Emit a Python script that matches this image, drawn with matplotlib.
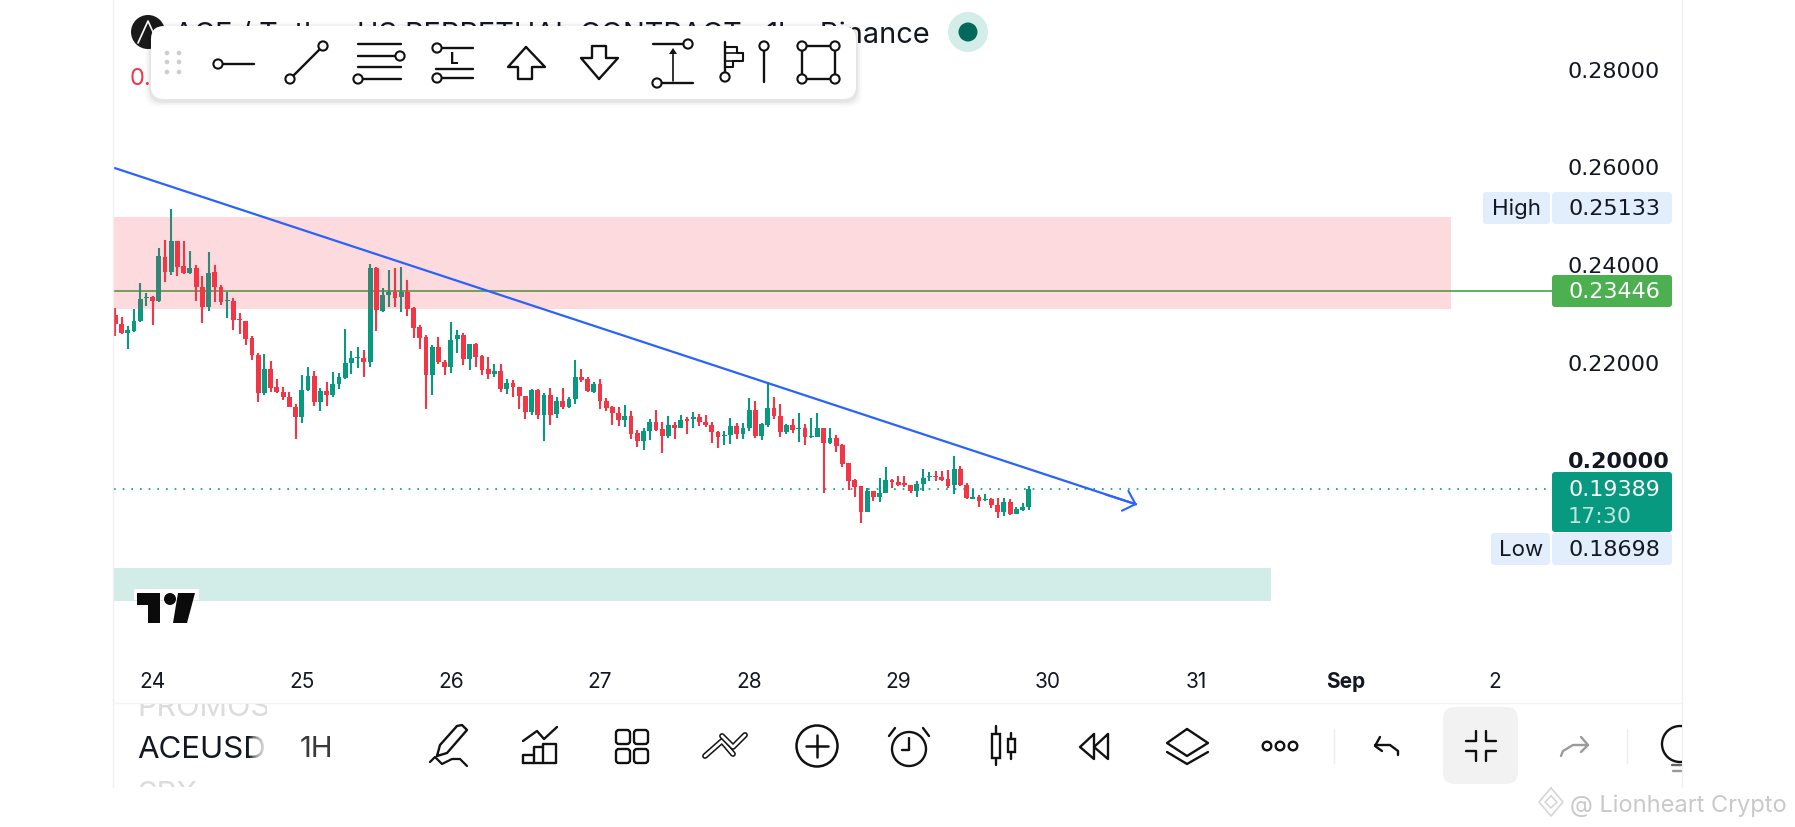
import matplotlib
matplotlib.use("Agg")
import matplotlib.pyplot as plt
from matplotlib.patches import Rectangle, Circle, FancyBboxPatch, Polygon

plt.rcParams['font.family'] = ['Inter', 'DejaVu Sans']

W, H = 1795, 828

# hourly candles
opens = [0.22956, 0.22765, 0.22587, 0.22635, 0.22833, 0.23304, 0.23324, 0.23235, 0.24143, 0.23836,
         0.24464, 0.23952, 0.23809, 0.23918, 0.23536, 0.23113, 0.23829, 0.23536, 0.23235, 0.23235,
         0.22867, 0.22833, 0.22478, 0.22137, 0.21366, 0.21850, 0.21482, 0.21386, 0.21277, 0.21079,
         0.20874, 0.21413, 0.21714, 0.21181, 0.21400, 0.21318, 0.21536, 0.21666, 0.21967, 0.22069,
         0.22083, 0.22001, 0.23925, 0.23038, 0.23365, 0.23420, 0.23331, 0.23434, 0.23093, 0.22710,
         0.22506, 0.21721, 0.22294, 0.22001, 0.21891, 0.22458, 0.22540, 0.22055, 0.22362, 0.22117,
         0.21844, 0.21748, 0.21803, 0.21441, 0.21557, 0.21482, 0.21298, 0.20977, 0.21427, 0.20916,
         0.21311, 0.20922, 0.21189, 0.21066, 0.21243, 0.21680, 0.21646, 0.21387, 0.21544, 0.21196,
         0.21073, 0.20943, 0.20814, 0.20889, 0.20534, 0.20384, 0.20588, 0.20759, 0.20616, 0.20479,
         0.20704, 0.20650, 0.20820, 0.20820, 0.20861, 0.20766, 0.20704, 0.20568, 0.20479, 0.20493,
         0.20691, 0.20527, 0.20643, 0.21018, 0.20486, 0.20711, 0.21046, 0.20889, 0.20561, 0.20704,
         0.20629, 0.20643, 0.20459, 0.20466, 0.20636, 0.20329, 0.20445, 0.20288, 0.19919, 0.19578,
         0.19448, 0.18930, 0.19346, 0.19223, 0.19319, 0.19585, 0.19537, 0.19510, 0.19469, 0.19353,
         0.19496, 0.19633, 0.19667, 0.19639, 0.19592, 0.19469, 0.19810, 0.19476, 0.19196, 0.19230,
         0.19162, 0.19182, 0.19073, 0.18923, 0.19128, 0.18889, 0.18971, 0.19025]
highs = [0.23092, 0.22908, 0.22737, 0.23079, 0.23604, 0.23399, 0.23345, 0.24321, 0.24491, 0.25133,
         0.24477, 0.24464, 0.24266, 0.23972, 0.23747, 0.24239, 0.23986, 0.23570, 0.23427, 0.23297,
         0.22990, 0.22840, 0.22526, 0.22185, 0.22150, 0.22014, 0.21646, 0.21475, 0.21379, 0.21134,
         0.21727, 0.21898, 0.21802, 0.21454, 0.21577, 0.21782, 0.21768, 0.22676, 0.22226, 0.22294,
         0.22240, 0.24000, 0.23932, 0.23502, 0.23877, 0.23911, 0.23946, 0.23673, 0.23127, 0.22744,
         0.22553, 0.22349, 0.22499, 0.22035, 0.22806, 0.22649, 0.22594, 0.22362, 0.22390, 0.22144,
         0.22103, 0.21953, 0.21953, 0.21653, 0.21625, 0.21489, 0.21298, 0.21448, 0.21448, 0.21352,
         0.21455, 0.21271, 0.21455, 0.21284, 0.22035, 0.21851, 0.21680, 0.21585, 0.21639, 0.21250,
         0.21093, 0.21066, 0.21107, 0.20998, 0.20602, 0.20636, 0.20827, 0.21005, 0.20759, 0.20889,
         0.20759, 0.20909, 0.20875, 0.20970, 0.20930, 0.20916, 0.20773, 0.20582, 0.20588, 0.20841,
         0.20738, 0.20738, 0.21250, 0.21202, 0.20752, 0.21578, 0.21271, 0.21127, 0.20718, 0.20820,
         0.20943, 0.20718, 0.20841, 0.20943, 0.20636, 0.20636, 0.20492, 0.20308, 0.19933, 0.19605,
         0.19455, 0.19407, 0.19353, 0.19612, 0.19837, 0.19598, 0.19660, 0.19660, 0.19482, 0.19551,
         0.19810, 0.19742, 0.19755, 0.19762, 0.19783, 0.20069, 0.19865, 0.19510, 0.19401, 0.19264,
         0.19298, 0.19209, 0.19216, 0.19203, 0.19182, 0.19032, 0.19100, 0.19455]
lows = [0.22526, 0.22560, 0.22253, 0.22615, 0.22819, 0.23140, 0.22751, 0.23229, 0.23624, 0.23781,
        0.23754, 0.23795, 0.23795, 0.23242, 0.22785, 0.23044, 0.23222, 0.23154, 0.22887, 0.22649,
        0.22567, 0.22348, 0.22034, 0.21181, 0.21325, 0.21386, 0.21352, 0.21216, 0.21079, 0.20410,
        0.20752, 0.21407, 0.21093, 0.20984, 0.21100, 0.21284, 0.21434, 0.21652, 0.21748, 0.21864,
        0.21680, 0.21891, 0.22635, 0.23024, 0.23127, 0.23127, 0.23024, 0.22936, 0.22492, 0.22253,
        0.21025, 0.21325, 0.21953, 0.21735, 0.21762, 0.22185, 0.21939, 0.21830, 0.21898, 0.21721,
        0.21653, 0.21680, 0.21380, 0.21339, 0.21284, 0.21039, 0.20834, 0.20902, 0.20834, 0.20370,
        0.20697, 0.20847, 0.21039, 0.21052, 0.21134, 0.21591, 0.21373, 0.21353, 0.21039, 0.20998,
        0.20711, 0.20684, 0.20670, 0.20425, 0.20261, 0.20199, 0.20397, 0.20575, 0.20138, 0.20438,
        0.20425, 0.20636, 0.20520, 0.20643, 0.20684, 0.20657, 0.20329, 0.20233, 0.20295, 0.20315,
        0.20418, 0.20411, 0.20575, 0.20431, 0.20397, 0.20670, 0.20827, 0.20466, 0.20520, 0.20547,
        0.20356, 0.20288, 0.20445, 0.20452, 0.19305, 0.20315, 0.20158, 0.19837, 0.19373, 0.19223,
        0.18698, 0.18923, 0.19155, 0.19134, 0.19305, 0.19407, 0.19455, 0.19428, 0.19305, 0.19237,
        0.19346, 0.19564, 0.19564, 0.19564, 0.19414, 0.19291, 0.19455, 0.19182, 0.19189, 0.19025,
        0.19148, 0.18998, 0.18793, 0.18848, 0.18861, 0.18875, 0.18950, 0.18964]
closes = [0.22765, 0.22580, 0.22649, 0.22840, 0.23290, 0.23331, 0.23249, 0.24164, 0.23836, 0.24471,
          0.23945, 0.23809, 0.23918, 0.23522, 0.23113, 0.23816, 0.23522, 0.23229, 0.23256, 0.22853,
          0.22847, 0.22471, 0.22130, 0.21366, 0.21850, 0.21461, 0.21379, 0.21277, 0.21079, 0.20874,
          0.21413, 0.21714, 0.21181, 0.21400, 0.21325, 0.21543, 0.21680, 0.21966, 0.22069, 0.22103,
          0.22001, 0.23925, 0.23058, 0.23365, 0.23434, 0.23311, 0.23427, 0.23079, 0.22697, 0.22492,
          0.21721, 0.22294, 0.21994, 0.21898, 0.22451, 0.22540, 0.22055, 0.22356, 0.22103, 0.21837,
          0.21755, 0.21803, 0.21441, 0.21557, 0.21475, 0.21291, 0.20977, 0.21427, 0.20909, 0.21311,
          0.20909, 0.21189, 0.21066, 0.21243, 0.21694, 0.21625, 0.21394, 0.21537, 0.21189, 0.21052,
          0.20943, 0.20807, 0.20889, 0.20520, 0.20384, 0.20582, 0.20759, 0.20602, 0.20479, 0.20704,
          0.20643, 0.20807, 0.20786, 0.20861, 0.20759, 0.20704, 0.20561, 0.20459, 0.20506, 0.20691,
          0.20527, 0.20643, 0.21018, 0.20479, 0.20718, 0.21046, 0.20889, 0.20568, 0.20704, 0.20609,
          0.20650, 0.20466, 0.20479, 0.20643, 0.20329, 0.20438, 0.20274, 0.19906, 0.19564, 0.19441,
          0.18930, 0.19353, 0.19223, 0.19319, 0.19585, 0.19530, 0.19482, 0.19469, 0.19346, 0.19496,
          0.19626, 0.19667, 0.19639, 0.19578, 0.19455, 0.19810, 0.19469, 0.19203, 0.19223, 0.19155,
          0.19189, 0.19066, 0.18930, 0.19121, 0.18882, 0.18984, 0.19025, 0.19389]

y_ticks = [0.28, 0.26, 0.24, 0.22, 0.20]
day_labels = ['24', '25', '26', '27', '28', '29', '30', '31', 'Sep', '2']
day_ticks = [6, 30, 54, 78, 102, 126, 150, 174, 198, 222]

resist_zone = [0.24968, 0.23079]
resist_end = 215.0
support_zone = [0.17777, 0.17101]
support_end = 185.9
trend_x = [-0.21, 164.4]
trend_y = [0.25969, 0.19075]
h_line = 0.23446
last_price = 0.19389
high_price = 0.25133
low_price = 0.18698

RED = '#F23645'
GREEN = '#089981'
BLUE = '#2962FF'
LINE_GREEN = '#4CAF50'
BADGE = '#E3EEFD'
INK = '#131722'
NUM_FONT = 'DejaVu Sans'  # the app uses tabular digits, Inter's 1 is too narrow here

fig = plt.figure(figsize=(W / 100, H / 100), dpi=100, facecolor='white')


def ax_rect(left, top, right, bottom):
    return [left / W, 1 - bottom / H, (right - left) / W, (bottom - top) / H]


# price pane, scale worked out from the tick labels (97.7px per 0.02)
ax = fig.add_axes(ax_rect(114, 1, 1552, 705))
ax.set_facecolor('none')
ax.set_xlim(-0.21, 231.2)
ax.set_ylim(0.14993, 0.29404)
for s in ax.spines.values():
    s.set_visible(False)

for i, (o, h, l, c) in enumerate(zip(opens, highs, lows, closes)):
    col = GREEN if c >= o else RED
    ax.vlines(i, l, h, color=col, lw=1.5, zorder=2)
    ax.bar(i, max(abs(c - o), 0.00004), bottom=min(o, c), width=0.78, color=col, lw=0, zorder=2)

ax.axhline(h_line, color=LINE_GREEN, lw=1.3, zorder=1.5)
ax.axhline(last_price, color=GREEN, lw=1.2, ls=(0, (1, 4.2)), zorder=1.5)
ax.add_patch(Rectangle((-1, resist_zone[1]), resist_end + 1, resist_zone[0] - resist_zone[1],
                       facecolor=RED, alpha=0.18, lw=0, zorder=3))
ax.add_patch(Rectangle((-1, support_zone[1]), support_end + 1, support_zone[0] - support_zone[1],
                       facecolor=GREEN, alpha=0.18, lw=0, zorder=3))
ax.plot(trend_x, trend_y, color=BLUE, lw=1.6, zorder=4, solid_capstyle='butt')
ax.annotate('', xy=(trend_x[1], trend_y[1]), xytext=(trend_x[1] - 5, trend_y[1] + 0.00205),
            arrowprops=dict(arrowstyle='->,head_length=0.39,head_width=0.375', color=BLUE, lw=1.5,
                            mutation_scale=20, shrinkA=0, shrinkB=0), zorder=4)

ax.yaxis.tick_right()
ax.set_yticks(y_ticks)
ax.set_yticklabels(['%.5f' % t for t in y_ticks], fontsize=16, color=INK, family=NUM_FONT)
ax.tick_params(axis='y', length=0, pad=11.5)
ax.get_yticklabels()[4].set_fontweight('bold')
ax.set_xticks(day_ticks)
ax.set_xticklabels(day_labels, fontsize=15, color=INK)
ax.tick_params(axis='x', length=0, pad=-24)
ax.get_xticklabels()[8].set_fontweight('bold')

# everything else (app chrome) is drawn in screen pixels on top
ui = fig.add_axes([0, 0, 1, 1], zorder=5)
ui.set_xlim(0, W)
ui.set_ylim(H, 0)
ui.axis('off')
ui.patch.set_alpha(0)


def seg(xs, ys, color='#111111', lw=1.7, z=10):
    ui.plot(xs, ys, color=color, lw=lw, zorder=z, solid_capstyle='round', solid_joinstyle='round')


def ring(x, y, r=4.6, color='#111111', lw=1.5, z=11):
    ui.add_patch(Circle((x, y), r, facecolor='white', edgecolor=color, lw=lw, zorder=z))


def box(x0, y0, x1, y1, color, r=3, z=6):
    ui.add_patch(FancyBboxPatch((x0 + r, y0 + r), x1 - x0 - 2 * r, y1 - y0 - 2 * r,
                                boxstyle='round,pad=%g,rounding_size=%g' % (r, r),
                                facecolor=color, edgecolor='none', zorder=z))


seg([113, 113], [0, 788], color='#F0F0F2', lw=1, z=1)
seg([1682, 1682], [0, 788], color='#F0F0F2', lw=1, z=1)
seg([114, 1682], [704, 704], color='#F2F3F3', lw=1, z=1)

# header
ui.text(174, 35, 'ACE / Tether US PERPETUAL CONTRACT · 1h · Binance', fontsize=20.85, color=INK,
        va='center', ha='left', zorder=4)
ui.text(130, 79, '0.', fontsize=17, color=RED, va='center', ha='left', zorder=4)
ui.add_patch(Circle((148, 33), 17, facecolor='#1A1A1A', lw=0, zorder=4))
seg([138, 148, 158], [44, 22, 44], color='white', lw=1.2, z=5)
ui.add_patch(Circle((968, 33), 20, facecolor='#D3EEE9', lw=0, zorder=4))
ui.add_patch(Circle((968, 33), 9.5, facecolor='#00695C', lw=0, zorder=5))

# drawing toolbar
for off, a in ((6, 0.02), (4, 0.03), (2, 0.05)):
    ui.add_patch(FancyBboxPatch((151 + 12, 27 + 12 + 2), 705 - 24, 73 - 24,
                                boxstyle='round,pad=%g,rounding_size=14' % (12 + off),
                                facecolor='black', alpha=a, edgecolor='none', zorder=7))
box(151, 27, 856, 100, 'white', r=13, z=8)
for gx in (167, 179):
    for gy in (54, 63, 73):
        ui.add_patch(Circle((gx, gy), 2.3, facecolor='#CDCDCD', lw=0, zorder=9))
seg([222, 254], [65, 65])
ring(218, 65)
seg([290, 323], [80, 47])
ring(290, 80)
ring(323, 47)
seg([358, 401], [45, 45])
seg([358, 397], [57, 57])
ring(400, 57)
seg([358, 401], [68, 68])
seg([362, 401], [80, 80])
ring(358, 80)
seg([440, 473], [49, 49])
ring(437, 49)
seg([436, 473], [70, 70])
seg([440, 473], [79, 79])
ring(437, 79)
ui.text(454, 60, 'L', fontsize=11, color='#111111', fontweight='bold', ha='center', va='center', zorder=10)
seg([526, 508, 518, 518, 532, 532, 545, 526], [48, 68, 68, 80, 80, 68, 68, 48])
seg([599, 581, 592, 592, 606, 606, 618, 599], [80, 59, 59, 47, 47, 59, 59, 80])
seg([653, 684], [45, 45])
ring(688, 45)
seg([661, 693], [84, 84])
ring(657, 84)
seg([673, 673], [82, 54], lw=1.2)
ui.add_patch(Polygon([(673, 49), (669, 55), (677, 55)], facecolor='#111111', lw=0, zorder=10))
seg([725, 725], [43, 74])
ring(725, 78)
seg([725, 737, 737, 743, 743, 733, 733, 725], [48, 48, 54, 54, 62, 62, 68, 68], lw=1.5)
seg([725, 743], [54, 54], lw=1.2)
seg([725, 733], [62, 62], lw=1.2)
seg([764, 764], [51, 83])
ring(764, 47)
seg([802, 835, 835, 802, 802], [47, 47, 80, 80, 47])
for cx in (802, 835):
    for cy in (47, 80):
        ring(cx, cy)

# price badges
box(1483, 193, 1550, 225, BADGE)
box(1552, 193, 1672, 225, BADGE)
box(1552, 276, 1672, 308, LINE_GREEN)
box(1552, 473, 1672, 533, GREEN)
box(1491, 534, 1550, 566, BADGE)
box(1552, 534, 1672, 566, BADGE)
ui.text(1517, 209, 'High', fontsize=16, color=INK, ha='center', va='center', zorder=7)
ui.text(1568, 209, '%.5f' % high_price, fontsize=16, color=INK, va='center', zorder=7, family=NUM_FONT)
ui.text(1568, 292, '%.5f' % h_line, fontsize=16, color='white', va='center', zorder=7, family=NUM_FONT)
ui.text(1568, 490, '%.5f' % last_price, fontsize=16, color='white', va='center', zorder=7, family=NUM_FONT)
ui.text(1568, 517, '17:30', fontsize=16, color='#BFE6DE', va='center', zorder=7, family=NUM_FONT)
ui.text(1521, 550, 'Low', fontsize=16, color=INK, ha='center', va='center', zorder=7)
ui.text(1568, 550, '%.5f' % low_price, fontsize=16, color=INK, va='center', zorder=7, family=NUM_FONT)

# TradingView mark
box(134, 590, 199, 601, 'white', r=1, z=4)
ui.add_patch(Polygon([(137, 594), (160, 594), (160, 624), (148, 624), (148, 606), (137, 606)],
                     facecolor='#0B0B0B', lw=0, zorder=5))
ui.add_patch(Polygon([(178, 594), (195, 594), (187, 624), (173, 624)], facecolor='#0B0B0B', lw=0, zorder=5))
ui.add_patch(Circle((170, 600), 6, facecolor='#0B0B0B', lw=0, zorder=5))

# bottom bar
clip = Rectangle((114, 705), 153, 83, transform=ui.transData)
for label, yy, col, fs in (('PROMOS', 708, '#DCDCDC', 22), ('SPX', 795, '#DCDCDC', 22), ('ACEUSD', 750, INK, 22.5)):
    t = ui.text(137, yy, label, fontsize=fs, color=col, va='center', ha='left', zorder=3, clip_on=True)
    t.set_clip_path(clip)
for n in range(12):
    ui.add_patch(Rectangle((250 + n * 1.5, 728), 18 - n * 1.5, 40, facecolor='white', alpha=0.17, lw=0, zorder=3.5))
ui.text(300, 750, '1H', fontsize=21, color='#3A3A3A', va='center', ha='left', zorder=3)

# pen
seg([437, 440, 457, 462, 467, 447, 437], [757, 746, 727, 726, 731, 754, 757])
seg([430, 435, 442, 452, 460, 467], [763, 758, 765, 760, 760, 767], lw=1.6)
# chart with bars
seg([523, 537, 544, 557], [742, 732, 740, 728])
seg([523, 523, 534, 534, 543, 543, 556, 556, 523], [764, 756, 756, 748, 748, 745, 745, 764, 764])
seg([534, 534], [756, 764])
seg([543, 543], [748, 764])
# grid
for gx in (623, 641):
    for gy in (738, 757):
        ui.add_patch(FancyBboxPatch((gx - 4, gy - 4), 8, 8, boxstyle='round,pad=3,rounding_size=3',
                                    facecolor='white', edgecolor='#111111', lw=1.7, zorder=10))
# pattern: outlined chevrons
for px, py in (([705, 722, 733], [757, 742, 755]), ([722, 733, 745], [737, 748, 736])):
    ui.plot(px, py, color='#111111', lw=4.2, zorder=10, solid_capstyle='round', solid_joinstyle='round')
    ui.plot(px, py, color='white', lw=2, zorder=10, solid_capstyle='round', solid_joinstyle='round')
# plus
ui.add_patch(Circle((817, 747), 20.5, facecolor='none', edgecolor='#111111', lw=1.8, zorder=10))
seg([806, 828], [747, 747], lw=1.8)
seg([817, 817], [736, 758], lw=1.8)
# alarm
ui.add_patch(Circle((909, 750), 17, facecolor='none', edgecolor='#111111', lw=1.7, zorder=10))
seg([909, 909, 902], [739, 751, 751])
seg([889, 895], [737, 729])
seg([929, 923], [737, 729])
# candles
seg([996, 996], [727, 766])
seg([1011, 1011], [734, 760])
ui.add_patch(Rectangle((992, 735), 8, 24, facecolor='white', edgecolor='#111111', lw=1.7, zorder=10))
ui.add_patch(Rectangle((1008, 740), 7, 13, facecolor='white', edgecolor='#111111', lw=1.7, zorder=10))
# rewind
seg([1094, 1080, 1094, 1094], [735, 748, 760, 735])
seg([1108, 1094, 1108, 1108], [735, 748, 760, 735])
# layers
seg([1187, 1167, 1187, 1208, 1187], [730, 744, 757, 744, 730])
seg([1167, 1187, 1208], [753, 765, 753])
# more
for dx in (1267, 1280, 1293):
    ui.add_patch(Circle((dx, 747), 4.3, facecolor='white', edgecolor='#111111', lw=1.7, zorder=10))
seg([1334, 1334], [730, 764], color='#EEEEEE', lw=1)
seg([1627, 1627], [730, 764], color='#EEEEEE', lw=1)
# undo / redo
seg([1380, 1375, 1382], [738, 747, 752])
seg([1375, 1390, 1398, 1398], [746, 746, 752, 756])
box(1443, 708, 1518, 785, '#F2F2F2', r=12, z=3)
seg([1466, 1476, 1476], [742, 742, 732])
seg([1496, 1486, 1486], [742, 742, 732])
seg([1466, 1476, 1476], [752, 752, 762])
seg([1496, 1486, 1486], [752, 752, 762])
seg([1581, 1588, 1581], [738, 746, 753], color='#9A9A9A')
seg([1588, 1573, 1563, 1561], [746, 746, 752, 757], color='#9A9A9A')
# bulb, cut off by the pane edge
bulb_clip = Rectangle((1600, 705), 82, 83, transform=ui.transData)
c = Circle((1680, 745), 18, facecolor='none', edgecolor='#111111', lw=1.7, zorder=10)
ui.add_patch(c)
c.set_clip_path(bulb_clip)
seg([1672, 1681], [766, 766], color='#666666')
seg([1673, 1681], [772, 772], color='#999999')

# watermark
ui.text(1570, 806, '@ Lionheart Crypto', fontsize=17, color='#C9C9C9', va='center', ha='left', zorder=3)
seg([1551, 1539, 1551, 1563, 1551], [789, 803, 817, 803, 789], color='#D6D6D6', lw=1.2)
seg([1551, 1545, 1551, 1557, 1551], [797, 803, 809, 803, 797], color='#D6D6D6', lw=1.2)

fig.savefig('out.png', dpi=100)
